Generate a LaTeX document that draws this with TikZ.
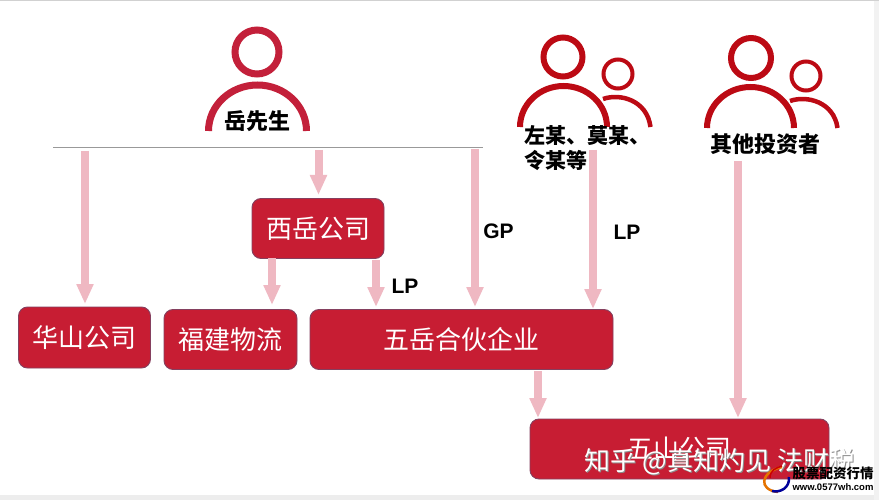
\documentclass[tikz,border=0pt]{standalone}
\usepackage{fontspec}
\setmainfont{Liberation Sans}
\newfontfamily\cjk{Noto Sans CJK SC}
\usetikzlibrary{arrows.meta}
\definecolor{boxred}{HTML}{C71D33}
\definecolor{boxedge}{HTML}{85405F}
\definecolor{armpink}{HTML}{EFB8C2}
\definecolor{iconA}{HTML}{C3203A}
\definecolor{iconB}{HTML}{BC0A14}
\tikzset{
  x=1pt,y=-1pt,
  firm/.style={draw=boxedge,line width=0.9pt,fill=boxred,rounded corners=9pt,text=white,inner sep=0pt,
    font=\cjk\fontsize{26}{26}\selectfont,anchor=center},
  flow/.style={draw=armpink,line width=8pt,-{Triangle[length=20pt,width=16pt,fill=armpink]}},
  tag/.style={font=\cjk\bfseries\fontsize{22}{26}\selectfont,text=black,inner sep=0pt,align=left},
  lp/.style={font=\bfseries\fontsize{21}{21}\selectfont,text=black,inner sep=0pt},
  wmark/.style={font=\cjk\fontsize{26}{26}\selectfont,text=white,inner sep=0pt},
}
\begin{document}
\begin{tikzpicture}
\useasboundingbox (0,0) rectangle (879,500);
\fill[white] (0,0) rectangle (879,500);
\fill[black!7] (0,495) rectangle (879,500);
\fill[black!5] (874,0) rectangle (879,500);
\fill[black!18] (0,0) rectangle (879,1);

% firms
\node[firm,minimum width=132pt,minimum height=61pt] (hua) at (84.5,337.5) {华山公司};
\node[firm,minimum width=133pt,minimum height=60pt] (fu) at (230.5,339.5) {福建物流};
\node[firm,minimum width=303pt,minimum height=60pt] (wuyue) at (461.5,339.5) {五岳合伙企业};
\node[firm,minimum width=132pt,minimum height=60pt] (xi) at (318,228.5) {西岳公司};
\node[firm,minimum width=299pt,minimum height=60pt] (wushan) at (679.5,449) {五山公司};

% person: Mr Yue
\draw[iconA,line width=7pt] (257,52) circle (22pt);
\draw[iconA,line width=7pt] (208.5,131) arc[start angle=180,end angle=360,x radius=49pt,y radius=-46pt];
\node[tag] (yue) at (257.5,121) {岳先生};

% person group 1
\draw[iconB,line width=6pt] (563,57) circle (19.5pt);
\draw[iconB,line width=6pt] (520,127) arc[start angle=180,end angle=360,x radius=43.5pt,y radius=-41pt];
\draw[iconB,line width=4pt] (618,74) circle (14.5pt);
\draw[iconB,line width=4.5pt] (603,99) .. controls (620,93) and (647,100) .. (650.5,127);
\node[tag,font=\cjk\bfseries\fontsize{21}{25}\selectfont] (zuo) at (587,148) {左某、莫某、\\令某等};

% person group 2
\draw[iconB,line width=6pt] (751,58) circle (20pt);
\draw[iconB,line width=6pt] (707,128) arc[start angle=180,end angle=360,x radius=43.5pt,y radius=-41pt];
\draw[iconB,line width=4pt] (806,76) circle (14.5pt);
\draw[iconB,line width=4.5pt] (790,101) .. controls (807,95) and (834,102) .. (837.5,128);
\node[tag] (qita) at (765.5,144) {其他投资者};

% owner bar
\coordinate (barL) at (53,147);
\coordinate (barR) at (483,147);
\draw[black!40,line width=0.8pt] (barL) -- (barR);

% flows
\coordinate (s1) at (85,151);   \coordinate (e1) at (85,304);
\coordinate (s2) at (318.5,150);\coordinate (e2) at (318.5,195);
\coordinate (s3) at (272,258);  \coordinate (e3) at (272,305);
\coordinate (s4) at (376,260);  \coordinate (e4) at (376,307);
\coordinate (s5) at (475,149);  \coordinate (e5) at (475,307);
\coordinate (s6) at (593,150);  \coordinate (e6) at (593,309);
\coordinate (s7) at (538,371);  \coordinate (e7) at (538,418);
\coordinate (s8) at (738,161);  \coordinate (e8) at (738,418);
\foreach \a/\b in {s1/e1,s2/e2,s3/e3,s4/e4,s5/e5,s6/e6,s7/e7,s8/e8}
  \draw[flow] (\a) -- (\b);

\node[lp] (lp1) at (405,286) {LP};
\node[lp] (gp) at (498.5,231) {GP};
\node[lp] (lp2) at (627,232) {LP};

% watermarks
\node[wmark,text=black!45] (wmS) at (721,463) {知乎 @真知灼见 法财税};
\node[wmark] (wm) at (720,462) {知乎 @真知灼见 法财税};
\draw[orange!90!black,line width=2.5pt] (782,467) .. controls (760,472) and (758,490) .. (778,492);
\draw[blue!60!black,line width=2.5pt] (789,477) .. controls (790,488) and (780,493) .. (772,491);
\draw[red!80!black,line width=1.5pt] (770,478) .. controls (770,470) and (776,468) .. (782,466);
\node[font=\cjk\bfseries\fontsize{13.5}{13.5}\selectfont,text=black,inner sep=0pt] (stock) at (833,473) {股票配资行情};
\node[font=\bfseries\fontsize{9.5}{9.5}\selectfont,text=black,inner sep=0pt] (web) at (833,487) {www.0577wh.com};
\end{tikzpicture}
\end{document}
